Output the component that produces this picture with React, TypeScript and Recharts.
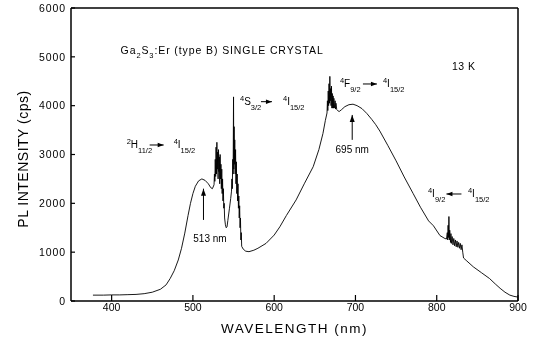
import React from 'react';
import { LineChart, Line, XAxis, YAxis, ReferenceLine, ReferenceDot } from 'recharts';

const FONT = '"Liberation Sans", Arial, Helvetica, sans-serif';

// ---- spectrum (wavelength nm, intensity cps)
const nmRise = [377, 390, 400, 410, 420, 430, 440, 450, 460, 467, 472, 477, 482, 486, 490, 494, 497, 500, 503, 507, 511, 515, 519, 522, 524];
const cpsRise = [120, 120, 125, 125, 130, 135, 150, 180, 240, 330, 460, 620, 840, 1080, 1390, 1750, 2000, 2200, 2350, 2460, 2500, 2470, 2400, 2320, 2300];

const nmH112 = [526, 526.5, 527, 527.5, 528, 528.5, 529, 529.5, 530, 530.5, 531, 531.5, 532, 532.5, 533, 533.5, 534, 534.5, 535, 535.5, 536, 536.5, 537, 537.5, 538, 538.5, 539, 540, 541, 542, 543];
const cpsH112 = [2380, 2600, 2450, 2900, 2550, 3150, 2600, 3250, 2700, 3050, 2500, 3100, 2650, 2950, 2400, 3000, 2500, 2800, 2300, 2700, 2200, 2500, 2050, 2300, 1900, 2000, 1700, 1560, 1500, 1520, 1650];

const nmS32 = [545, 546.5, 547.5, 548, 548.5, 549, 549.5, 550, 550.3, 550.7, 551, 551.5, 552, 552.5, 553, 553.5, 554, 554.5, 555, 555.5, 556, 556.5, 557, 557.5, 558, 558.5, 559, 559.5, 560];
const cpsS32 = [1900, 2100, 2250, 2500, 2300, 2900, 2600, 4180, 2700, 3570, 2800, 3300, 2600, 3100, 2400, 2850, 2200, 2600, 2050, 2400, 1900, 2150, 1700, 1950, 1500, 1700, 1250, 1400, 1120];

const nmValley = [562, 565, 569, 575, 580, 590, 600, 607, 615, 627, 637, 648, 655, 660, 663];
const cpsValley = [1060, 1020, 1010, 1040, 1080, 1180, 1350, 1520, 1750, 2070, 2400, 2750, 3100, 3430, 3700];

const nmF92 = [665, 665.5, 666, 666.5, 667, 667.5, 668, 668.5, 669, 669.5, 670, 670.5, 671, 671.5, 672, 672.5, 673, 673.5, 674, 675, 675.5, 676, 677, 678];
const cpsF92 = [3850, 4100, 3900, 4300, 4000, 4450, 4050, 4600, 4100, 4350, 4000, 4400, 3950, 4250, 3950, 4200, 3950, 4150, 3950, 4100, 3930, 4050, 3920, 3900];

const nmBroad = [680, 683, 687, 692, 697, 702, 708, 714, 720, 725, 730, 740, 750, 760, 771, 780, 790, 796, 804, 810, 812];
const cpsBroad = [3880, 3920, 3980, 4020, 4030, 4000, 3940, 3840, 3720, 3610, 3480, 3180, 2870, 2540, 2200, 1920, 1640, 1540, 1340, 1280, 1270];

const nmI92 = [813, 813.5, 814, 814.5, 815, 815.5, 816, 817, 817.5, 818, 819, 820, 821, 822, 823, 824, 825, 826, 827, 828, 829, 830, 831, 832, 833];
const cpsI92 = [1400, 1250, 1550, 1300, 1730, 1250, 1450, 1200, 1380, 1180, 1320, 1150, 1280, 1130, 1250, 1110, 1230, 1100, 1200, 1080, 1180, 1050, 1150, 1000, 880];

const nmTail = [837, 845, 855, 865, 872, 878, 884, 890, 895, 900];
const cpsTail = [820, 700, 580, 460, 350, 260, 180, 120, 95, 80];

const xTicks = [400, 500, 600, 700, 800, 900];
const yTicks = [0, 1000, 2000, 3000, 4000, 5000, 6000];

const title = { nm: 411, cps: 5060 };
const tempLabel = { nm: 818.7, cps: 4730, text: '13 K' };

const peaks = [
  { nm: 513, from: 1660, to: 2300, label: '513 nm', labelNm: 521, labelCps: 1215 },
  { nm: 696, from: 3300, to: 3810, label: '695 nm', labelNm: 696, labelCps: 3025 },
];

const transitions = [
  { nm: 418.5, cps: 3127, sup1: '2', main1: 'H', sub1: '11/2', sup2: '4', main2: 'I', sub2: '15/2', dir: 1 },
  { nm: 557.9, cps: 4014, sup1: '4', main1: 'S', sub1: '3/2', sup2: '4', main2: 'I', sub2: '15/2', dir: 1 },
  { nm: 680.9, cps: 4389, sup1: '4', main1: 'F', sub1: '9/2', sup2: '4', main2: 'I', sub2: '15/2', dir: 1 },
  { nm: 789.2, cps: 2136, sup1: '4', main1: 'I', sub1: '9/2', sup2: '4', main2: 'I', sub2: '15/2', dir: -1 },
];
// layout offsets (px) of the arrow and second level for each transition label
const transitionLayout = [
  { a0: 23, a1: 37, ady: -3.3, r: 47 },
  { a0: 21, a1: 32, ady: -3.3, r: 43 },
  { a0: 23, a1: 37, ady: -2.7, r: 43 },
  { a0: 18.5, a1: 33.5, ady: -2.7, r: 40 },
];

const segments = [
  [nmRise, cpsRise], [nmH112, cpsH112], [nmS32, cpsS32], [nmValley, cpsValley],
  [nmF92, cpsF92], [nmBroad, cpsBroad], [nmI92, cpsI92], [nmTail, cpsTail],
];
const data: { nm: number; cps: number }[] = [];
segments.forEach(([ns, cs]) => ns.forEach((n, i) => data.push({ nm: n, cps: cs[i] })));

const XTick = (props: any) => {
  const { x, y, payload } = props;
  return (
    <g>
      <line x1={x} y1={y} x2={x} y2={y - 6} stroke="#000" strokeWidth={1.2} />
      <text x={x} y={y + 9.5} textAnchor="middle" fontSize={10.5} fontFamily={FONT} fill="#000">{payload.value}</text>
    </g>
  );
};

const YTick = (props: any) => {
  const { x, y, payload } = props;
  return (
    <g>
      <line x1={x} y1={y} x2={x + 4} y2={y} stroke="#000" strokeWidth={1.2} />
      <text x={x - 5} y={y + 3.7} textAnchor="end" fontSize={10.5} letterSpacing={0.9} fontFamily={FONT} fill="#000">{payload.value}</text>
    </g>
  );
};

const Level = ({ x, y, sup, main, sub }: any) => (
  <text x={x} y={y} fontSize={10} fontFamily={FONT} fill="#000">
    <tspan fontSize={7.5} dy={-4}>{sup}</tspan>
    <tspan dy={4}>{main}</tspan>
    <tspan fontSize={7.5} dy={5}>{sub}</tspan>
  </text>
);

const Transition = ({ cx, cy, t, l }: any) => {
  const ay = cy + l.ady;
  const tipX = t.dir > 0 ? cx + l.a1 : cx + l.a0;
  const head = t.dir > 0
    ? `${tipX},${ay} ${tipX - 6},${ay - 2.3} ${tipX - 6},${ay + 2.3}`
    : `${tipX},${ay} ${tipX + 6},${ay - 2.3} ${tipX + 6},${ay + 2.3}`;
  return (
    <g>
      <Level x={cx} y={cy} sup={t.sup1} main={t.main1} sub={t.sub1} />
      <line x1={cx + l.a0} y1={ay} x2={cx + l.a1} y2={ay} stroke="#000" strokeWidth={1} />
      <polygon points={head} fill="#000" />
      <Level x={cx + l.r} y={cy} sup={t.sup2} main={t.main2} sub={t.sub2} />
    </g>
  );
};

const ArrowHead = ({ cx, cy }: any) => (
  <polygon points={`${cx},${cy} ${cx - 2.5},${cy + 7} ${cx + 2.5},${cy + 7}`} fill="#000" />
);

export default function App() {
  return (
    <div style={{ position: 'absolute', left: 0, top: 0, width: 535, height: 350, background: '#fff', filter: 'grayscale(1)' }}>
      <LineChart width={535} height={350} data={data} margin={{ top: 8, right: 17, bottom: 0, left: 0 }}>
        <XAxis
          type="number"
          dataKey="nm"
          domain={[350, 900]}
          ticks={xTicks}
          interval={0}
          allowDataOverflow
          tickSize={0}
          tickMargin={0}
          tick={<XTick />}
          height={49}
          axisLine={{ stroke: '#000', strokeWidth: 1.5 }}
          label={{
            content: (p: any) => {
              const vb = p.viewBox || { x: 71, y: 301, width: 447 };
              return (
                <text x={vb.x + vb.width / 2} y={vb.y + 32} textAnchor="middle" fontSize={13.5} letterSpacing={1.5} fontFamily={FONT} fill="#000">
                  WAVELENGTH  (nm)
                </text>
              );
            },
          }}
        />
        <YAxis
          type="number"
          domain={[0, 6000]}
          ticks={yTicks}
          interval={0}
          allowDataOverflow
          width={71}
          tickSize={0}
          tickMargin={0}
          tick={<YTick />}
          axisLine={{ stroke: '#000', strokeWidth: 1.5 }}
          label={{
            content: (p: any) => {
              const vb = p.viewBox || { x: 0, y: 8, height: 293 };
              const cy = vb.y + vb.height / 2 + 4.5;
              return (
                <text transform={`translate(${vb.x + 28},${cy}) rotate(-90)`} textAnchor="middle" fontSize={14} letterSpacing={0.5} fontFamily={FONT} fill="#000">
                  PL INTENSITY  (cps)
                </text>
              );
            },
          }}
        />
        <ReferenceLine y={6000} stroke="#000" strokeWidth={1.5} />
        <ReferenceLine x={900} stroke="#000" strokeWidth={1.5} />
        <Line type="linear" dataKey="cps" stroke="#000" strokeWidth={0.9} dot={false} isAnimationActive={false} />

        <ReferenceDot
          x={title.nm}
          y={title.cps}
          ifOverflow="visible"
          shape={(p: any) => (
            <text x={p.cx} y={p.cy} fontSize={10.5} letterSpacing={0.9} fontFamily={FONT} fill="#000">
              Ga<tspan fontSize={7.5} dy={4}>2</tspan><tspan dy={-4}>S</tspan><tspan fontSize={7.5} dy={4}>3</tspan><tspan dy={-4}>:Er  (type B) SINGLE  CRYSTAL</tspan>
            </text>
          )}
        />
        <ReferenceDot
          x={tempLabel.nm}
          y={tempLabel.cps}
          ifOverflow="visible"
          shape={(p: any) => (
            <text x={p.cx} y={p.cy} fontSize={10.5} letterSpacing={0.5} fontFamily={FONT} fill="#000">{tempLabel.text}</text>
          )}
        />
        {peaks.map((pk) => (
          <ReferenceLine key={`pl${pk.nm}`} segment={[{ x: pk.nm, y: pk.from }, { x: pk.nm, y: pk.to }]} stroke="#000" strokeWidth={1} />
        ))}
        {peaks.map((pk) => (
          <ReferenceDot key={`ph${pk.nm}`} x={pk.nm} y={pk.to} ifOverflow="visible" shape={(p: any) => <ArrowHead cx={p.cx} cy={p.cy} />} />
        ))}
        {peaks.map((pk) => (
          <ReferenceDot
            key={`pt${pk.nm}`}
            x={pk.labelNm}
            y={pk.labelCps}
            ifOverflow="visible"
            shape={(p: any) => (
              <text x={p.cx} y={p.cy} textAnchor="middle" fontSize={10} fontFamily={FONT} fill="#000">{pk.label}</text>
            )}
          />
        ))}
        {transitions.map((t, i) => (
          <ReferenceDot
            key={`tr${i}`}
            x={t.nm}
            y={t.cps}
            ifOverflow="visible"
            shape={(p: any) => <Transition cx={p.cx} cy={p.cy} t={t} l={transitionLayout[i]} />}
          />
        ))}
      </LineChart>
    </div>
  );
}
